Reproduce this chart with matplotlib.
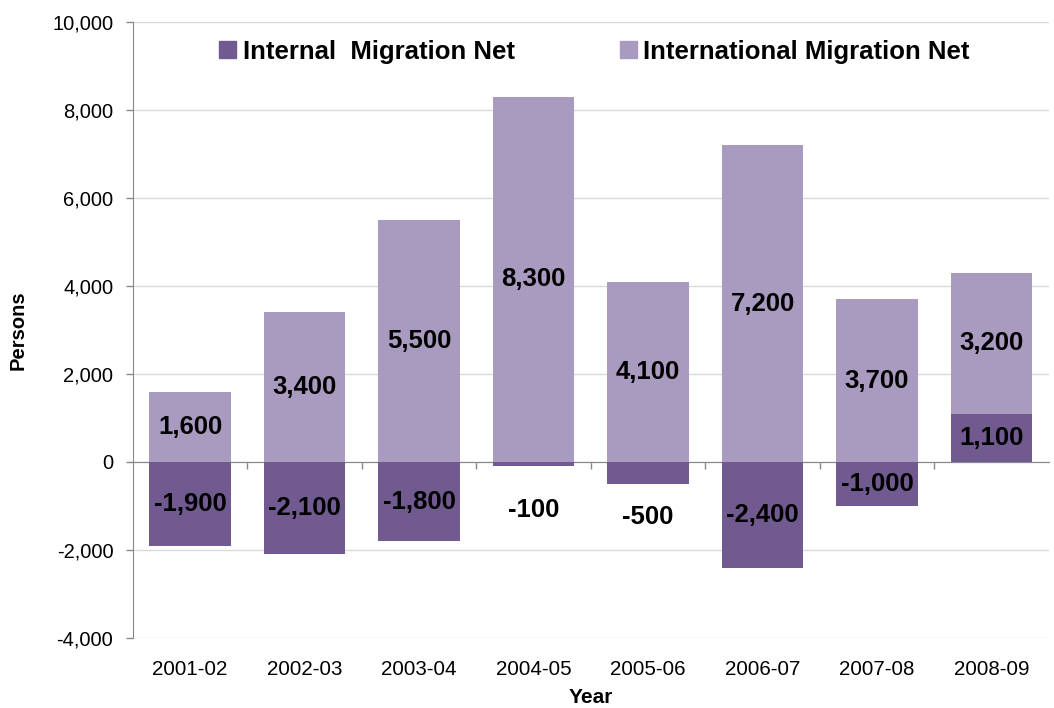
import matplotlib
matplotlib.use("Agg")
import matplotlib.pyplot as plt
import matplotlib.transforms as mtransforms
from matplotlib.patches import Patch
from matplotlib.ticker import FuncFormatter

plt.rcParams['font.family'] = ['Liberation Sans', 'DejaVu Sans']

years = ['2001-02', '2002-03', '2003-04', '2004-05',
         '2005-06', '2006-07', '2007-08', '2008-09']
internal_net = [-1900, -2100, -1800, -100, -500, -2400, -1000, 1100]
international_net = [1600, 3400, 5500, 8300, 4100, 7200, 3700, 3200]

dark = '#715A8F'
light = '#A99ABF'

fig = plt.figure(figsize=(10.54, 7.08), dpi=100)
ax = fig.add_axes([0.126, 0.099, 0.869, 0.870])

x = list(range(len(years)))
w = 0.71

# excel-style stacking: positives pile up, negatives hang below zero
intl_bottom = [v if v > 0 else 0 for v in internal_net]
ax.bar(x, internal_net, width=w, color=dark, zorder=3)
ax.bar(x, international_net, width=w, bottom=intl_bottom, color=light, zorder=3)

# labels on small bars sit below the bar
label_shift = {3: -1100, 4: -1250}
for i in x:
    yi = label_shift.get(i, internal_net[i] / 2)
    ax.text(i, yi, f'{internal_net[i]:,}', ha='center', va='center',
            fontsize=18.5, fontweight='bold', zorder=4)
    yt = intl_bottom[i] + international_net[i] / 2
    ax.text(i, yt, f'{international_net[i]:,}', ha='center', va='center',
            fontsize=18.5, fontweight='bold', zorder=4)

ax.set_ylim(-4000, 10000)
ax.set_xlim(-0.5, len(years) - 0.5)
ax.set_yticks(range(-4000, 10001, 2000))
ax.yaxis.set_major_formatter(FuncFormatter(lambda v, p: f'{int(v):,}'))
ax.tick_params(axis='y', labelsize=14.5, length=5, width=1,
               color='#888888', pad=9)
ax.grid(axis='y', color='#D9D9D9', linewidth=1, zorder=0)

# x axis line runs along zero, with ticks between the categories
ax.spines['bottom'].set_position(('data', 0))
ax.spines['bottom'].set_color('#888888')
ax.spines['left'].set_color('#888888')
ax.spines['top'].set_visible(False)
ax.spines['right'].set_visible(False)
ax.set_xticks(x)
ax.set_xticklabels([])
ax.tick_params(axis='x', which='major', length=0)
ax.set_xticks([i + 0.5 for i in x[:-1]], minor=True)
ax.tick_params(axis='x', which='minor', length=5, width=1,
               color='#888888', direction='out')
ax.set_axisbelow(True)

trans = mtransforms.blended_transform_factory(ax.transData, ax.transAxes)
for i, lab in enumerate(years):
    ax.text(i, -0.036, lab, transform=trans, ha='center', va='top',
            fontsize=14.8)

ax.text(0.5, -0.081, 'Year', transform=ax.transAxes, ha='center', va='top',
        fontsize=15, fontweight='bold')
fig.text(0.017, 0.534, 'Persons', rotation=90, ha='center', va='center',
         fontsize=14.5, fontweight='bold')

handles = [Patch(color=dark, label='Internal  Migration Net'),
           Patch(color=light, label='International Migration Net')]
ax.legend(handles=handles, ncol=2, loc='center',
          bbox_to_anchor=(0.504, 0.952), frameon=False,
          prop={'size': 18.5, 'weight': 'bold'},
          handlelength=0.65, handleheight=0.65, handletextpad=0.27,
          columnspacing=4.1, borderaxespad=0)

fig.savefig('out.png', dpi=100)
